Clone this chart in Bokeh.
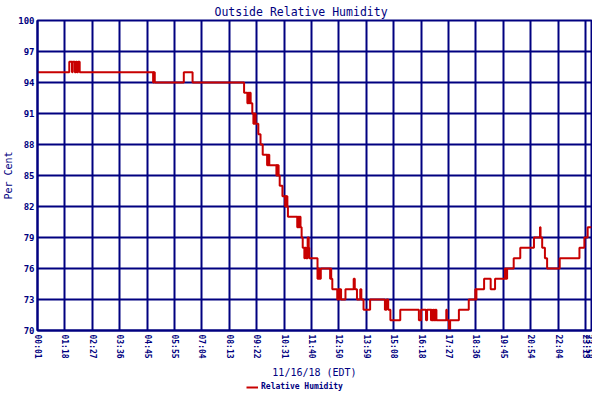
from bokeh.plotting import figure
from bokeh.layouts import column
from bokeh.models import Range1d, FixedTicker, Legend, LegendItem
from bokeh.embed import file_html
from bokeh.resources import INLINE

# Sample index at which the humidity changes, and the new value (percent)
change_idx = [0, 58, 63, 64, 68, 70, 72, 74, 77,
              211, 212, 214, 267, 283,
              377, 383, 385, 387, 388, 389,
              392, 394, 395, 396, 397, 398,
              403, 407, 411, 419, 420, 421, 422, 423,
              436, 437, 438, 439, 440, 442, 447,
              452, 453, 454, 455, 456, 457,
              474, 475, 476, 477, 478, 479, 480,
              482, 484, 487, 488, 490, 493, 495, 496,
              511, 513, 514, 517, 534, 535, 536, 538,
              547, 549, 551, 552, 554, 562, 577, 579,
              583, 589, 591, 595, 607, 634, 637, 640, 644,
              662, 696, 700, 709, 711,
              718, 719, 720, 722, 723, 725, 726, 727, 728,
              746, 747, 751, 753, 769, 787,
              799, 800, 801, 815, 827, 835,
              853, 854, 855, 856, 857, 869, 881,
              906, 917, 918, 921, 926, 930, 953,
              989, 998, 1004, 1011]
humidity = [95, 96, 95, 96, 95, 96, 95, 96, 95,
            94, 95, 94, 95, 94,
            93, 92, 93, 92, 93, 92,
            91, 90, 91, 90, 91, 90,
            89, 88, 87, 86, 87, 86, 87, 86,
            85, 86, 85, 86, 85, 84, 83,
            82, 83, 82, 83, 82, 81,
            80, 81, 80, 81, 80, 81, 80,
            79, 78, 77, 78, 77, 79, 78, 77,
            75, 76, 75, 76, 75, 76, 75, 74,
            73, 74, 73, 74, 73, 74, 75, 74,
            73, 74, 73, 72, 73, 72, 73, 72, 71,
            72, 71, 72, 71, 72,
            71, 72, 71, 72, 71, 72, 71, 72, 71,
            72, 71, 70, 71, 72, 73,
            74, 73, 74, 75, 74, 75,
            76, 75, 76, 75, 76, 77, 78,
            79, 80, 79, 78, 77, 76, 77,
            78, 79, 80, 80]

tick_idx = [0, 50, 100, 150, 200, 250, 300, 350, 400, 450, 500,
            550, 600, 650, 700, 750, 800, 850, 900, 950, 1000, 1011]
tick_labels = ["00:01", "01:18", "02:27", "03:36", "04:45", "05:55", "07:04",
               "08:13", "09:22", "10:31", "11:40", "12:50", "13:59", "15:08",
               "16:18", "17:27", "18:36", "19:45", "20:54", "22:04", "23:13",
               "23:58"]
y_ticks = [70, 73, 76, 79, 82, 85, 88, 91, 94, 97, 100]

NAVY = "#000080"
RED = "#c80000"
FONT = "DejaVu Sans Mono"

p = figure(frame_width=554, frame_height=310, output_backend="svg",
           toolbar_location=None,
           x_range=Range1d(0, 1011), y_range=Range1d(70, 100),
           title="Outside Relative Humidity",
           min_border_left=0, min_border_right=1, min_border_top=20,
           min_border_bottom=0)
p.title.align = "left"
p.title.text_font = FONT
p.title.text_font_size = "11.5px"
p.title.text_font_style = "normal"
p.title.text_color = NAVY
p.title.offset = 177
p.title.standoff = 3

p.outline_line_color = NAVY
p.outline_line_width = 2
p.background_fill_color = "white"
p.border_fill_color = "white"

r = p.step(change_idx, humidity, mode="after", line_color=RED, line_width=2)

p.xaxis.ticker = FixedTicker(ticks=tick_idx)
p.xaxis.major_label_overrides = {t: l for t, l in zip(tick_idx, tick_labels)}
p.xaxis.major_label_orientation = "vertical"
p.xaxis.axis_label = "11/16/18 (EDT)"
p.yaxis.ticker = FixedTicker(ticks=y_ticks)
p.yaxis.axis_label = "Per Cent"

for ax in (p.xaxis[0], p.yaxis[0]):
    ax.axis_line_color = NAVY
    ax.axis_line_width = 2
    ax.major_tick_line_color = None
    ax.minor_tick_line_color = None
    ax.major_tick_out = 0
    ax.major_tick_in = 0
    ax.minor_tick_out = 0
    ax.major_label_text_color = NAVY
    ax.major_label_text_font = FONT
    ax.major_label_text_font_style = "bold"
    ax.axis_label_text_color = NAVY
    ax.axis_label_text_font = FONT
    ax.axis_label_text_font_style = "normal"

p.xaxis.major_label_text_font_size = "8px"
p.xaxis.major_label_standoff = 4
p.xaxis.axis_label_text_font_size = "10px"
p.xaxis.axis_label_standoff = 5
p.yaxis.major_label_text_font_size = "9px"
p.yaxis.major_label_standoff = 3
p.yaxis.axis_label_text_font_size = "10px"
p.yaxis.axis_label_standoff = 1

p.xgrid.grid_line_color = NAVY
p.xgrid.grid_line_width = 2
p.ygrid.grid_line_color = NAVY
p.ygrid.grid_line_width = 2

# Legend strip under the chart (its line lies outside the strip's visible range)
leg = figure(width=592, height=12, output_backend="svg", toolbar_location=None,
             x_range=Range1d(0, 1), y_range=Range1d(0, 1),
             min_border=0)
leg.xaxis.visible = False
leg.yaxis.visible = False
leg.xgrid.visible = False
leg.ygrid.visible = False
leg.outline_line_color = None
leg.background_fill_color = "white"
leg.border_fill_color = "white"
r2 = leg.step(change_idx, humidity, mode="after", line_color=RED, line_width=2)
legend = Legend(items=[LegendItem(label="Relative Humidity", renderers=[r2])],
                orientation="horizontal", location=(209, 1),
                border_line_alpha=0, background_fill_alpha=0,
                label_text_font=FONT, label_text_font_size="8px",
                label_text_font_style="bold", label_text_color=NAVY,
                glyph_width=12, glyph_height=8, label_standoff=3,
                padding=0, margin=0, spacing=0, label_height=8)
leg.add_layout(legend, "center")

layout = column(p, leg, spacing=0)
open("out.html", "w").write(file_html(layout, INLINE))
